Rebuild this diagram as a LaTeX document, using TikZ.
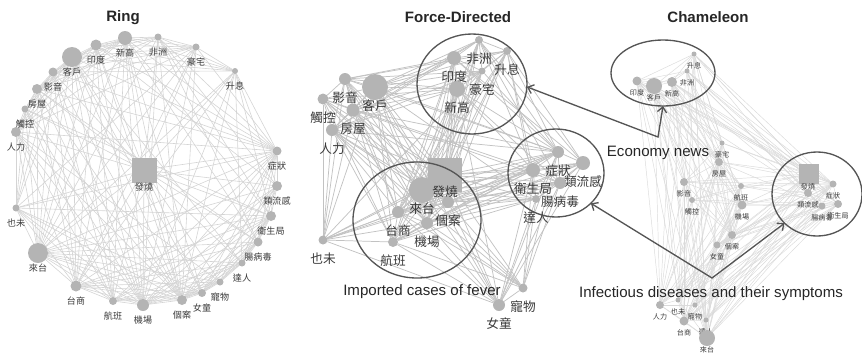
\documentclass[tikz,border=0pt]{standalone}
\usepackage{fontspec}
\setmainfont{Liberation Sans}
\newfontfamily\cjk{Noto Sans CJK TC}
\usetikzlibrary{arrows.meta,backgrounds,shapes.geometric}

\definecolor{nodegray}{HTML}{B4B4B4}
\definecolor{edgegray}{HTML}{D4D4D4}
\definecolor{markgray}{HTML}{555555}
\definecolor{labgray}{HTML}{3A3A3A}

\tikzset{every picture/.style={line width=0.75pt},
  vert/.style={circle, fill=nodegray, inner sep=0pt, outer sep=0pt},
  hub/.style={rectangle, fill=nodegray, inner sep=0pt, outer sep=0pt},
  ringlab/.style={inner sep=0pt, text=labgray, font=\cjk\fontsize{6.8}{7}\selectfont},
  forcelab/.style={inner sep=0pt, text=labgray, font=\cjk\fontsize{9.5}{10}\selectfont},
  chamlab/.style={inner sep=0pt, text=labgray, font=\cjk\fontsize{5.3}{6}\selectfont},
  heading/.style={inner sep=0pt, text=black!85, font=\bfseries\fontsize{11.3}{13}\selectfont},
  caption/.style={inner sep=0pt, text=black!85, font=\fontsize{11.3}{13}\selectfont},
  ringedge/.style={draw=edgegray, line width=0.45pt},
  forceedge/.style={draw=black!24, line width=0.55pt},
  chamedge/.style={draw=edgegray!85, line width=0.35pt},
  group/.style={ellipse, draw=markgray, line width=1pt, inner sep=0pt, outer sep=0pt},
  pointer/.style={draw=markgray, line width=1pt, line join=miter,
    {Straight Barb[length=4pt,width=7pt]}-{Straight Barb[length=4pt,width=7pt]}}
}

% same graph in all three layouts
\def\edgelist{fev/vis, fev/cli, fev/xin, fev/ind, fev/afr, fev/man, fev/rat, fev/vid,
  fev/hou, fev/tou, fev/lab, fev/yew, fev/tsh, fev/fli, fev/air, fev/cas, fev/gir,
  fev/pet, fev/exp, fev/ent, fev/hea, fev/flu, fev/sym,
  vis/cli, vis/xin, vis/ind, vis/afr, vis/man, vis/rat, vis/vid, vis/hou, vis/tou,
  vis/lab, vis/yew, vis/tsh, vis/fli, vis/air, vis/cas, vis/gir, vis/pet, vis/exp,
  vis/ent, vis/hea, vis/flu, vis/sym,
  cli/xin, cli/ind, cli/afr, cli/man, cli/rat, cli/vid, cli/hou, cli/tou, cli/lab,
  cli/yew, cli/tsh, cli/fli, cli/air, cli/cas, cli/gir, cli/exp, cli/sym,
  xin/ind, xin/afr, xin/man, xin/rat, xin/hou, ind/afr, ind/man, ind/rat, afr/rat,
  afr/man, man/rat, man/hou, vid/tou, vid/hou, hou/tou, tou/lab, vid/lab, hou/lab,
  tsh/fli, tsh/air, tsh/cas, fli/air, fli/cas, air/cas, cas/gir, gir/pet, yew/tsh,
  yew/air, yew/fli, yew/lab, air/gir, cas/pet,
  sym/flu, sym/hea, sym/ent, flu/hea, flu/ent, hea/ent, ent/exp, hea/exp, sym/exp,
  hea/cas, flu/cas, sym/air,
  xin/air, ind/tsh, xin/sym, afr/sym, rat/hea, man/vid, lab/air, tou/air, vid/air,
  hou/cas, exp/pet, exp/gir, gir/hea, pet/sym, air/hea, tsh/sym, fli/flu, ind/air,
  afr/ent, rat/exp, xin/cas, lab/cas,
  xin/vid, xin/tou, xin/lab, xin/tsh, xin/fli, xin/gir, xin/ent, xin/hea,
  ind/vid, ind/hou, ind/lab, ind/cas, ind/sym, ind/flu, ind/fli,
  afr/hou, afr/air, afr/hea, afr/flu, afr/cas, afr/lab,
  man/cas, man/air, man/tsh, man/sym, man/lab, man/yew,
  rat/air, rat/sym, rat/flu, rat/cas, rat/vid, rat/tsh,
  vid/cas, vid/tsh, vid/fli, vid/sym, vid/yew,
  hou/air, hou/tsh, hou/sym, hou/yew, hou/ent,
  tou/cas, tou/fli, tou/yew, tou/hea,
  lab/tsh, lab/fli, lab/sym, lab/pet,
  yew/cas, yew/sym, yew/gir, yew/hea,
  tsh/gir, tsh/pet, tsh/exp, tsh/hea, tsh/ent,
  fli/gir, fli/pet, fli/sym, fli/hea, fli/exp,
  air/pet, air/exp, air/ent, air/flu,
  cas/exp, cas/ent, cas/sym, gir/ent, gir/sym, gir/flu,
  pet/hea, pet/ent, exp/flu}

\begin{document}
\begin{tikzpicture}[x=0.75pt,y=-0.75pt]
\useasboundingbox (0,0) rectangle (862,354);

% Ring
\node[heading] (ringtitle) at (123,18) {Ring};
\node[hub, minimum size=18.75pt] (rfev) at (144,170) {};
\node[ringlab] (rfev-t) at (144,187) {發燒};
\foreach \id/\x/\y/\r/\txt in {xin/125/38/7/新高, afr/158/37/3.5/非洲, man/196/47/3.5/豪宅,
    rat/235/71/3/升息, ind/96/45/5.5/印度, cli/72/57/10/客戶, vid/53/72/4.5/影音,
    hou/37/89/5/房屋, tou/25/109/3.5/觸控, lab/16/132/5/人力, sym/277/151/4.5/症狀,
    flu/277/186/5/類流感, hea/271/216/5/衛生局, ent/258/242/4.5/腸病毒, exp/242/263/3.5/達人,
    pet/220/282/3.5/寵物, gir/202/293/4/女童, cas/182/300/5/個案, air/143/305/6/機場,
    fli/113/301/4/航班, tsh/76/286/5.5/台商, vis/38/253/10/來台, yew/16/208/3.5/也未}{
  \node[vert, minimum size={1.5pt*\r}] (r\id) at (\x,\y) {};
  \node[ringlab] (r\id-t) at (\x,\y+15) {\txt};
}

% Force-Directed
\node[heading] (forcetitle) at (458,17) {Force-Directed};
\node[hub, minimum size=25.5pt] (ffev) at (445,175) {};
\foreach \id/\x/\y/\r/\txt in {afr/479/40/4/非洲, rat/507/51/4/升息, ind/454/58/7/印度,
    man/482/71/3.5/豪宅, xin/457/89/8/新高, vid/345/79/6/影音, cli/375/87/13/客戶,
    tou/323/99/5.5/觸控, hou/353/110/6.5/房屋, lab/332/130/6/人力, vis/422/190/13/來台,
    cas/448/202/6/個案, air/427/223/6/機場, tsh/398/212/6/台商, fli/393/242/5/航班,
    yew/323/240/4.5/也未, pet/523/288/4.5/寵物, gir/499/305/6/女童, sym/558/152/6/症狀,
    flu/583/163/7/類流感, hea/533/170/7/衛生局, ent/560/183/6/腸病毒, exp/536/199/4/達人}{
  \node[vert, minimum size={1.5pt*\r}] (f\id) at (\x,\y) {};
  \node[forcelab] (f\id-t) at (\x,\y+19) {\txt};
}
\node[forcelab] (ffev-t) at (445,192) {發燒};

% Chameleon
\node[heading] (chamtitle) at (708,17) {Chameleon};
\node[hub, minimum size=15pt] (cfev) at (809,174) {};
\node[chamlab] (cfev-t) at (808,187) {發燒};
\foreach \id/\x/\y/\r/\txt in {rat/694/54/2.5/升息, afr/687/71/2.5/非洲, xin/672/82/5/新高,
    cli/654/86/8/客戶, ind/637/81/4.5/印度, man/722/143/2.5/豪宅, hou/719/162/4/房屋,
    vid/684/182/4/影音, tou/692/200/3/觸控, fli/741/186/3/航班, air/742/205/4.5/機場,
    cas/732/235/4/個案, gir/717/245/3.5/女童, lab/660/305/4/人力, yew/678/300/2.5/也未,
    pet/695/305/2.5/寵物, tsh/684/321/4.5/台商, exp/706/320/2.5/達人, vis/707/338/8/來台,
    sym/833/184/3.5/症狀, flu/808/193/4/類流感, ent/822/206/3.5/腸病毒, hea/838/204/4/衛生局}{
  \node[vert, minimum size={1.5pt*\r}] (c\id) at (\x,\y) {};
  \node[chamlab] (c\id-t) at (\x,\y+12) {\txt};
}

\begin{pgfonlayer}{background}
\foreach \a/\b in \edgelist {
  \draw[ringedge] (r\a) -- (r\b);
  \draw[forceedge] (f\a) -- (f\b);
  \draw[chamedge] (c\a) -- (c\b);
}
\end{pgfonlayer}

% groups and pointers
\node[group, minimum width=82.5pt, minimum height=75pt] (fecon) at (472,84) {};
\node[group, minimum width=96pt, minimum height=87pt] (ffever) at (417,220) {};
\node[group, minimum width=72pt, minimum height=66pt] (fdis) at (556,173) {};
\node[group, minimum width=78pt, minimum height=49.5pt] (cecon) at (663,73) {};
\node[group, minimum width=67.5pt, minimum height=63pt] (cdis) at (817,194) {};

\coordinate (econv) at (658,137);
\coordinate (disv) at (712,278);
\draw[pointer] (fecon.-3) -- (econv) -- (cecon.south);
\draw[pointer] (fdis.-41) -- (disv) -- (cdis.222);

\node[caption] (econtxt) at (658,153) {Economy news};
\node[caption] (fevertxt) at (422,292) {Imported cases of fever};
\node[caption] (distxt) at (711,294) {Infectious diseases and their symptoms};
\end{tikzpicture}
\end{document}
